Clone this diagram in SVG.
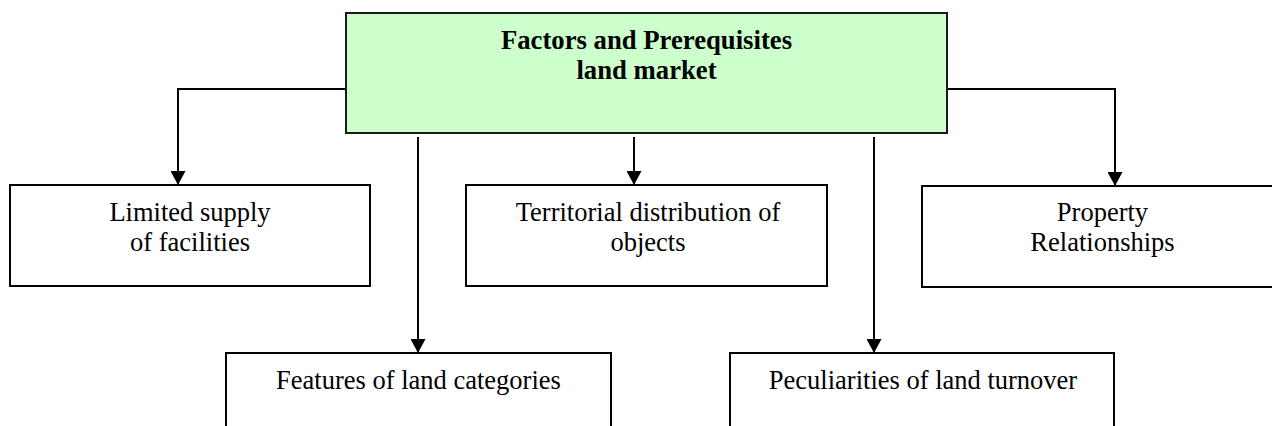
<svg xmlns="http://www.w3.org/2000/svg" width="1272" height="426" viewBox="0 0 1272 426">
  <style>
    .box { fill: #ffffff; stroke: #000000; stroke-width: 2; }
    .head { fill: #ccffcc; stroke: #1a1a1a; stroke-width: 2; }
    .label { font-family: "Liberation Serif", "Times New Roman", serif; font-size: 26.5px; fill: #000000; text-anchor: middle; }
    .title { font-family: "Liberation Serif", "Times New Roman", serif; font-size: 26.7px; font-weight: bold; fill: #000000; text-anchor: middle; }
    .link { fill: none; stroke: #000000; stroke-width: 2; marker-end: url(#arrow); }
  </style>
  <defs>
    <marker id="arrow" markerUnits="userSpaceOnUse" markerWidth="15" markerHeight="15" refX="14" refY="7.5" orient="auto">
      <path d="M0,0 L14,7.5 L0,15 Z" fill="#000000"/>
    </marker>
  </defs>

  <rect width="1272" height="426" fill="#ffffff"/>

  <!-- connectors -->
  <g id="connectors">
    <path class="link" d="M346,89 H178 V185"/>
    <path class="link" d="M947,89 H1115 V186"/>
    <path class="link" d="M634,137 V185"/>
    <path class="link" d="M418,137 V353"/>
    <path class="link" d="M874,137 V353"/>
  </g>

  <!-- root node -->
  <g id="factors">
    <rect class="head" x="346" y="13" width="601" height="120"/>
    <text class="title" x="646.5" y="49">Factors and Prerequisites</text>
    <text class="title" x="646.5" y="79">land market</text>
  </g>

  <g id="limited-supply">
    <rect class="box" x="10" y="185" width="360" height="101"/>
    <text class="label" x="190" y="221">Limited supply</text>
    <text class="label" x="190" y="251">of facilities</text>
  </g>

  <g id="territorial-distribution">
    <rect class="box" x="466" y="185" width="361" height="101"/>
    <text class="label" x="648" y="221">Territorial distribution of</text>
    <text class="label" x="648" y="251">objects</text>
  </g>

  <g id="property-relationships">
    <rect class="box" x="922" y="186" width="362" height="101"/>
    <text class="label" x="1102.5" y="221">Property</text>
    <text class="label" x="1102.5" y="251">Relationships</text>
  </g>

  <g id="land-categories">
    <rect class="box" x="226" y="353" width="385" height="100"/>
    <text class="label" x="418.5" y="389">Features of land categories</text>
  </g>

  <g id="land-turnover">
    <rect class="box" x="730" y="353" width="384" height="100"/>
    <text class="label" x="923" y="389">Peculiarities of land turnover</text>
  </g>
</svg>
